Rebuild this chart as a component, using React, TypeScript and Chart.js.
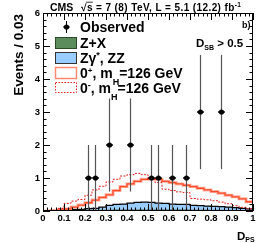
import React, { useEffect, useRef } from 'react';
import { Chart, registerables } from 'chart.js';

Chart.register(...registerables);

// 30 bins of width 1/30 on D_PS in [0, 1]
const binEdges = Array.from({ length: 31 }, (_, i) => i / 30);

// Z+X background (green)
const zxValues = [0.005, 0.005, 0.01, 0.015, 0.02, 0.02, 0.02, 0.02, 0.025, 0.025, 0.03, 0.03, 0.03, 0.03, 0.03, 0.03, 0.03, 0.03, 0.03, 0.03, 0.03, 0.025, 0.025, 0.025, 0.02, 0.02, 0.02, 0.02, 0.015, 0.01];
// Zgamma*, ZZ background (blue), stacked on Z+X
const zzValues = [0.005, 0.005, 0.01, 0.025, 0.03, 0.03, 0.05, 0.06, 0.095, 0.145, 0.17, 0.18, 0.21, 0.23, 0.24, 0.23, 0.21, 0.2, 0.18, 0.17, 0.17, 0.145, 0.135, 0.125, 0.12, 0.11, 0.1, 0.08, 0.065, 0.05];
// 0+ expectation (solid)
const sig0PlusValues = [0, 0, 0.03, 0.06, 0.12, 0.18, 0.25, 0.33, 0.41, 0.49, 0.62, 0.74, 0.82, 0.9, 0.96, 0.98, 0.96, 0.9, 0.86, 0.82, 0.78, 0.74, 0.69, 0.64, 0.59, 0.54, 0.48, 0.43, 0.37, 0.28];
// 0- expectation (dotted)
const sig0MinusValues = [0, 0.03, 0.08, 0.23, 0.3, 0.35, 0.48, 0.64, 0.75, 0.88, 0.96, 1.06, 1.1, 1.14, 1.1, 0.96, 0.86, 0.66, 0.62, 0.58, 0.56, 0.38, 0.36, 0.34, 0.31, 0.27, 0.22, 0.16, 0.11, 0.07];

// Observed events
const obsX = [0.2167, 0.25, 0.3167, 0.4167, 0.5167, 0.55, 0.6167, 0.6833, 0.75, 0.85];
const obsY = [1, 1, 2, 2, 1, 1, 1, 1, 3, 3];
const obsErr = [1, 1, 1.41, 1.41, 1, 1, 1, 1, 1.73, 1.73];

const FONT = "'Liberation Sans', Arial, Helvetica, sans-serif";
const f = (s: number) => `bold ${s}px ${FONT}`;

const histPoints = (vals: number[]) => [
  ...vals.map((v, i) => ({ x: binEdges[i], y: v })),
  { x: binEdges[vals.length], y: vals[vals.length - 1] },
];

function drawRich(ctx: CanvasRenderingContext2D, x: number, y: number, parts: [string, number, number][]) {
  let cx = x;
  for (const [t, s, dy] of parts) {
    ctx.font = f(s);
    ctx.fillText(t, cx, y + dy);
    cx += ctx.measureText(t).width;
  }
  return cx;
}

const errorBars = {
  id: 'errorBars',
  beforeDatasetDraw(chart: any, args: any) {
    if (args.index !== 0) return;
    const { ctx, scales: { x, y } } = chart;
    const half = 1 / 60;
    ctx.save();
    obsX.forEach((xv, i) => {
      const px = x.getPixelForValue(xv);
      const py = y.getPixelForValue(obsY[i]);
      ctx.strokeStyle = '#555';
      ctx.lineWidth = 1.2;
      ctx.beginPath();
      ctx.moveTo(px, y.getPixelForValue(obsY[i] - obsErr[i]));
      ctx.lineTo(px, y.getPixelForValue(obsY[i] + obsErr[i]));
      ctx.stroke();
      ctx.strokeStyle = '#000';
      ctx.lineWidth = 1.4;
      ctx.beginPath();
      ctx.moveTo(x.getPixelForValue(xv - half), py);
      ctx.lineTo(x.getPixelForValue(xv + half), py);
      ctx.stroke();
    });
    ctx.restore();
  },
};

const rootFrame = {
  id: 'rootFrame',
  afterDraw(chart: any) {
    const { ctx, chartArea: a, scales: { x, y } } = chart;
    ctx.save();
    ctx.strokeStyle = '#000';
    ctx.lineWidth = 1;
    ctx.strokeRect(a.left + 0.5, a.top + 0.5, a.right - a.left - 1, a.bottom - a.top - 1);
    ctx.beginPath();
    for (let k = 0; k <= 50; k++) {
      const v = k / 50;
      const px = Math.round(x.getPixelForValue(v)) + 0.5;
      const len = k % 5 === 0 ? 7 : 3.5;
      ctx.moveTo(px, a.bottom);
      ctx.lineTo(px, a.bottom - len);
      ctx.moveTo(px, a.top);
      ctx.lineTo(px, a.top + len);
    }
    for (let k = 0; k <= 30; k++) {
      const v = k / 5;
      const py = Math.round(y.getPixelForValue(v)) + 0.5;
      const len = k % 5 === 0 ? 7 : 3.5;
      ctx.moveTo(a.left, py);
      ctx.lineTo(a.left + len, py);
      ctx.moveTo(a.right, py);
      ctx.lineTo(a.right - len, py);
    }
    ctx.stroke();

    ctx.fillStyle = '#000';
    ctx.textAlign = 'left';
    ctx.textBaseline = 'alphabetic';

    // Header
    ctx.font = f(10.5);
    ctx.fillText('CMS', 50, 10.5);
    (ctx as any).letterSpacing = '0.4px';
    ctx.font = f(10);
    let hx = 81;
    ctx.fillText('√', hx, 10.5);
    hx += ctx.measureText('√').width;
    const sw = ctx.measureText('s').width;
    ctx.fillText('s', hx, 10.5);
    ctx.lineWidth = 0.8;
    ctx.beginPath();
    ctx.moveTo(hx - 1, 2.2);
    ctx.lineTo(hx + sw, 2.2);
    ctx.stroke();
    hx += sw;
    hx = drawRich(ctx, hx, 10.5, [
      [' = 7 (8) TeV, L = 5.1 (12.2) fb', 10, 0],
      ['-1', 6.5, -4],
    ]);
    (ctx as any).letterSpacing = '0px';

    // Y-axis title
    ctx.save();
    ctx.translate(23, 14);
    ctx.rotate(-Math.PI / 2);
    ctx.textAlign = 'right';
    ctx.font = f(13.5);
    ctx.fillText('Events / 0.03', 0, 0);
    ctx.restore();

    // X-axis title
    drawRich(ctx, 237, 240, [['D', 11.5, 0], ['PS', 7, 2]]);

    // b) and D_SB label
    ctx.font = f(9);
    ctx.fillText('b)', 242, 28);
    drawRich(ctx, 196, 47, [['D', 11.5, 0], ['SB', 7, 2.5], [' > 0.5', 11.5, 0]]);

    // Legend
    // Observed marker
    ctx.strokeStyle = '#000';
    ctx.lineWidth = 1;
    ctx.beginPath();
    ctx.moveTo(66.5, 21);
    ctx.lineTo(66.5, 33);
    ctx.moveTo(63, 27);
    ctx.lineTo(70, 27);
    ctx.stroke();
    ctx.beginPath();
    ctx.arc(66.5, 27, 2.6, 0, Math.PI * 2);
    ctx.fill();
    drawRich(ctx, 80, 32, [['Observed', 14, 0]]);

    // Z+X
    ctx.fillStyle = '#5c8c5c';
    ctx.fillRect(55, 37, 21, 11);
    ctx.strokeStyle = '#2a4a2a';
    ctx.lineWidth = 1;
    ctx.strokeRect(55.5, 37.5, 21, 11);
    ctx.fillStyle = '#000';
    drawRich(ctx, 80, 47.5, [['Z+X', 14, 0]]);

    // Zgamma*, ZZ
    ctx.fillStyle = '#99ccff';
    ctx.fillRect(55, 52, 21, 11);
    ctx.strokeStyle = '#333';
    ctx.strokeRect(55.5, 52.5, 21, 11);
    ctx.fillStyle = '#000';
    drawRich(ctx, 80, 62.5, [['Zγ', 14, 0], ['*', 9, -5], [', ZZ', 14, 0]]);

    // 0+
    ctx.strokeStyle = '#ff8a70';
    ctx.lineWidth = 1.5;
    ctx.strokeRect(55.5, 67.5, 21, 11);
    drawRich(ctx, 80, 77.5, [['0', 14, 0], ['+', 8, -5], [', m', 14, 0], ['H', 9, 7], ['=126 GeV', 14, 0]]);

    // 0-
    ctx.strokeStyle = '#e02020';
    ctx.lineWidth = 1;
    ctx.setLineDash([1.5, 1.5]);
    ctx.strokeRect(55.5, 82.5, 21, 10);
    ctx.setLineDash([]);
    drawRich(ctx, 80, 92.5, [['0', 14, 0], ['-', 9, -5], [', m', 14, 0], ['H', 9, 7], ['=126 GeV', 14, 0]]);

    ctx.restore();
  },
};

export default function App() {
  const ref = useRef<HTMLCanvasElement | null>(null);

  useEffect(() => {
    if (!ref.current) return;
    const totals = zzValues.map((v, i) => v + zxValues[i]);
    const chart = new Chart(ref.current, {
      type: 'line',
      data: {
        datasets: [
          {
            label: 'Observed',
            data: obsX.map((x, i) => ({ x, y: obsY[i] })),
            showLine: false,
            pointRadius: 2.6,
            pointBackgroundColor: '#000',
            pointBorderWidth: 0,
            order: 0,
          },
          {
            label: '0-',
            data: histPoints(sig0MinusValues),
            stepped: true,
            borderColor: '#e02020',
            borderWidth: 1,
            borderDash: [2, 1.5],
            pointRadius: 0,
            fill: false,
            order: 1,
          },
          {
            label: '0+',
            data: histPoints(sig0PlusValues),
            stepped: true,
            borderColor: '#ff4a28',
            borderWidth: 1.3,
            pointRadius: 0,
            fill: false,
            order: 2,
          },
          {
            label: '0+ halo',
            data: histPoints(sig0PlusValues),
            stepped: true,
            borderColor: '#ffb3a3',
            borderWidth: 3,
            pointRadius: 0,
            fill: false,
            order: 3,
          },
          {
            label: 'Z+X',
            data: histPoints(zxValues),
            stepped: true,
            borderColor: '#2e5e2e',
            borderWidth: 0.8,
            backgroundColor: '#5c8c5c',
            fill: 'origin',
            pointRadius: 0,
            order: 4,
          },
          {
            label: 'Zγ*, ZZ',
            data: histPoints(totals),
            stepped: true,
            borderColor: '#000',
            borderWidth: 1.2,
            backgroundColor: '#99ccff',
            fill: 'origin',
            pointRadius: 0,
            order: 5,
          },
        ],
      } as any,
      options: {
        animation: false,
        responsive: false,
        devicePixelRatio: 1,
        events: [],
        layout: { padding: { top: 13, right: 13, left: 0, bottom: 0 } },
        plugins: { legend: { display: false }, tooltip: { enabled: false } },
        scales: {
          x: {
            type: 'linear',
            min: 0,
            max: 1,
            afterFit: (s: any) => { s.height = 32; },
            grid: { display: false, drawTicks: false },
            border: { display: false },
            ticks: {
              stepSize: 0.1,
              autoSkip: false,
              maxRotation: 0,
              padding: 2,
              color: '#000',
              font: { family: FONT, size: 9.5, weight: 'bold' },
              callback: (v: any) => {
                const n = Number(v);
                if (Math.abs(n) < 1e-9) return '0';
                if (Math.abs(n - 1) < 1e-9) return '1';
                return n.toFixed(1);
              },
            },
          },
          y: {
            type: 'linear',
            min: 0,
            max: 6,
            afterFit: (s: any) => { s.width = 43; },
            grid: { display: false, drawTicks: false },
            border: { display: false },
            ticks: {
              stepSize: 1,
              padding: 3,
              color: '#000',
              font: { family: FONT, size: 9.5, weight: 'bold' },
            },
          },
        },
      } as any,
      plugins: [errorBars, rootFrame],
    });
    return () => chart.destroy();
  }, []);

  return (
    <div style={{ position: 'fixed', left: 0, top: 0, width: 266, height: 243, background: '#fff' }}>
      <canvas ref={ref} width={266} height={243} style={{ width: 266, height: 243, display: 'block' }} />
    </div>
  );
}
